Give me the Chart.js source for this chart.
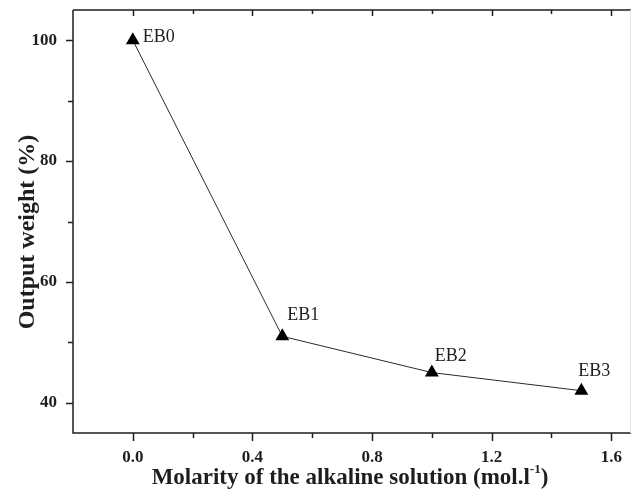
<!DOCTYPE html>
<html>
<head>
<meta charset="utf-8">
<script src="https://cdn.jsdelivr.net/npm/chart.js@4/dist/chart.umd.min.js"></script>
<style>
  html, body { margin: 0; padding: 0; background: #fff; overflow: hidden; }
  canvas { display: block; }
</style>
</head>
<body>
<canvas id="chart" width="632" height="496"></canvas>
<script>
// samples and their measured output weight
const sampleNames = ['EB0', 'EB1', 'EB2', 'EB3'];
const molarity = [0, 0.5, 1.0, 1.5];
const outputWeight = [100, 51, 45, 42];

// axis ticks
const xTicks = [0, 0.4, 0.8, 1.2, 1.6];
const xMinorTicks = [0.2, 0.6, 1.0, 1.4];
const yTicks = [40, 60, 80, 100];
const yMinorTicks = [50, 70, 90];

const xTitle = 'Molarity of the alkaline solution (mol.l';
const xTitleSup = '-1';
const yTitle = 'Output weight (%)';

const serif = "'Liberation Serif', 'Times New Roman', serif";
const ink = '#1e1e1e';

// label placement next to each point: [dx, dy] of the text baseline start
const labelOffsets = [[10, 2], [5, -16], [3, -12], [-3, -15]];

// keep the plot box where the layout padding puts it
function noAutoPadding(s) {
  s.paddingTop = 0;
  s.paddingBottom = 0;
  s.paddingLeft = 0;
  s.paddingRight = 0;
}

// box, tick marks and axis titles
const frame = {
  id: 'frame',
  afterDraw(chart) {
    const { ctx, chartArea: a, scales: { x, y } } = chart;
    ctx.save();
    ctx.strokeStyle = ink;
    ctx.lineWidth = 1.5;
    ctx.beginPath();
    ctx.moveTo(a.left, a.top);
    ctx.lineTo(a.right, a.top);
    ctx.moveTo(a.left, a.top);
    ctx.lineTo(a.left, a.bottom);
    ctx.lineTo(a.right, a.bottom);
    ctx.stroke();

    ctx.beginPath();
    xTicks.forEach(v => {
      const px = Math.round(x.getPixelForValue(v)) + 0.5;
      ctx.moveTo(px, a.bottom); ctx.lineTo(px, a.bottom + 8);
      ctx.moveTo(px, a.top); ctx.lineTo(px, a.top + 6);
    });
    xMinorTicks.forEach(v => {
      const px = Math.round(x.getPixelForValue(v)) + 0.5;
      ctx.moveTo(px, a.bottom); ctx.lineTo(px, a.bottom + 5);
      ctx.moveTo(px, a.top); ctx.lineTo(px, a.top + 4);
    });
    yTicks.forEach(v => {
      const py = Math.round(y.getPixelForValue(v)) + 0.5;
      ctx.moveTo(a.left, py); ctx.lineTo(a.left - 7, py);
    });
    yMinorTicks.forEach(v => {
      const py = Math.round(y.getPixelForValue(v)) + 0.5;
      ctx.moveTo(a.left, py); ctx.lineTo(a.left - 5, py);
    });
    ctx.stroke();

    // right edge is barely visible
    ctx.strokeStyle = '#e4e4e4';
    ctx.lineWidth = 1;
    ctx.beginPath();
    ctx.moveTo(a.right - 0.5, a.top);
    ctx.lineTo(a.right - 0.5, a.bottom);
    ctx.stroke();

    ctx.fillStyle = ink;
    ctx.textBaseline = 'alphabetic';

    // x title with superscript
    ctx.font = 'bold 23px ' + serif;
    const mainW = ctx.measureText(xTitle).width;
    ctx.font = 'bold 13px ' + serif;
    const supW = ctx.measureText(xTitleSup).width;
    ctx.font = 'bold 23px ' + serif;
    const closeW = ctx.measureText(')').width;
    let tx = 350 - (mainW + supW + closeW) / 2;
    const ty = 484;
    ctx.textAlign = 'left';
    ctx.fillText(xTitle, tx, ty);
    tx += mainW;
    ctx.font = 'bold 13px ' + serif;
    ctx.fillText(xTitleSup, tx, ty - 11);
    tx += supW;
    ctx.font = 'bold 23px ' + serif;
    ctx.fillText(')', tx, ty);

    // y title
    ctx.translate(34, 232);
    ctx.rotate(-Math.PI / 2);
    ctx.textAlign = 'center';
    ctx.font = 'bold 24px ' + serif;
    ctx.fillText(yTitle, 0, 0);
    ctx.restore();

    // point labels
    const pts = chart.getDatasetMeta(0).data;
    ctx.save();
    ctx.fillStyle = ink;
    ctx.font = '18px ' + serif;
    ctx.textAlign = 'left';
    ctx.textBaseline = 'alphabetic';
    pts.forEach((p, i) => {
      const [dx, dy] = labelOffsets[i];
      ctx.fillText(sampleNames[i], p.x + dx, p.y + dy);
    });
    ctx.restore();
  }
};

new Chart(document.getElementById('chart'), {
  type: 'scatter',
  data: {
    datasets: [{
      data: molarity.map((m, i) => ({ x: m, y: outputWeight[i] })),
      showLine: true,
      borderColor: '#2a2a2a',
      borderWidth: 1,
      pointStyle: 'triangle',
      pointRadius: 8,
      pointHoverRadius: 8,
      pointBackgroundColor: '#000',
      pointBorderColor: '#000',
      pointBorderWidth: 0
    }]
  },
  options: {
    responsive: false,
    animation: false,
    devicePixelRatio: 1,
    layout: { autoPadding: false, padding: { top: 10, right: 1, left: 0, bottom: 0 } },
    plugins: { legend: { display: false }, tooltip: { enabled: false } },
    scales: {
      x: {
        type: 'linear',
        min: -0.2,
        max: 1.666,
        grid: { display: false, drawTicks: false },
        border: { display: false },
        afterBuildTicks: s => { s.ticks = xTicks.map(v => ({ value: v })); },
        afterFit: s => { s.height = 63; noAutoPadding(s); },
        ticks: {
          padding: 14,
          color: ink,
          font: { family: serif, size: 17, weight: 'bold' },
          callback: v => v.toFixed(1)
        }
      },
      y: {
        type: 'linear',
        min: 35,
        max: 105,
        grid: { display: false, drawTicks: false },
        border: { display: false },
        afterBuildTicks: s => { s.ticks = yTicks.map(v => ({ value: v })); },
        afterFit: s => { s.width = 73; noAutoPadding(s); },
        ticks: {
          padding: 16,
          color: ink,
          font: { family: serif, size: 17, weight: 'bold' }
        }
      }
    }
  },
  plugins: [frame]
});
</script>
</body>
</html>
